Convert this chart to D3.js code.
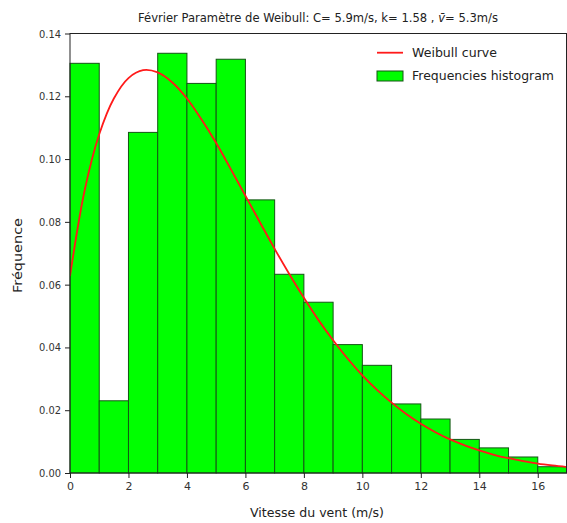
<!DOCTYPE html>
<html>
<head>
<meta charset="utf-8">
<script src="https://cdn.jsdelivr.net/npm/d3@7"></script>
<style>
  html, body { margin: 0; padding: 0; background: #fff; }
  svg { display: block; }
  text { font-family: "DejaVu Sans", sans-serif; fill: #222; }
</style>
</head>
<body>
<svg id="chart" width="567" height="523"></svg>
<script>
// Histogram bins (1 m/s wide, starting at 0) and their frequencies
const binStarts = [0, 1, 2, 3, 4, 5, 6, 7, 8, 9, 10, 11, 12, 13, 14, 15, 16];
const binFreqs = [0.1305, 0.0230, 0.1085, 0.1337, 0.1241, 0.1318, 0.0870, 0.0633, 0.0544,
                  0.0409, 0.0343, 0.0220, 0.0172, 0.0107, 0.0080, 0.0051, 0.0020];

// Weibull curve samples
const curveX = [0, 0.5, 1, 1.5, 2, 2.5, 3, 3.5, 4, 4.5, 5, 5.5, 6, 6.5, 7, 7.5, 8, 8.5,
                9, 9.5, 10, 10.5, 11, 11.5, 12, 12.5, 13, 13.5, 14, 14.5, 15, 15.5, 16, 16.5, 17];
const curveY = [0.0627, 0.0900, 0.1079, 0.1193, 0.1258, 0.1283, 0.1276, 0.1244, 0.1193,
                0.1126, 0.1051, 0.0968, 0.0883, 0.0798, 0.0714, 0.0634, 0.0558, 0.0487,
                0.0423, 0.0364, 0.0311, 0.0265, 0.0224, 0.0188, 0.0157, 0.0130, 0.0107,
                0.0088, 0.0072, 0.0058, 0.0047, 0.0038, 0.0030, 0.0024, 0.0019];

const xTicks = [0, 2, 4, 6, 8, 10, 12, 14, 16];
const yTicks = [0.00, 0.02, 0.04, 0.06, 0.08, 0.10, 0.12, 0.14];

const titleText = "Février Paramètre de Weibull: C= 5.9m/s, k= 1.58 , ";
const xLabel = "Vitesse du vent (m/s)";
const yLabel = "Fréquence";
const legendItems = ["Weibull curve", "Frequencies histogram"];

const svg = d3.select("#chart");
const m = { left: 70, right: 567, top: 33.5, bottom: 473 };

const x = d3.scaleLinear().domain([0, 17]).range([m.left, m.right]);
const y = d3.scaleLinear().domain([0, 0.14]).range([m.bottom, m.top]);

svg.append("defs").append("clipPath").attr("id", "plot-clip")
  .append("rect").attr("x", m.left).attr("y", m.top)
  .attr("width", m.right - m.left).attr("height", m.bottom - m.top);

// Bars
svg.append("g").selectAll("rect").data(binStarts).join("rect")
  .attr("x", d => x(d))
  .attr("y", (d, i) => y(binFreqs[i]))
  .attr("width", d => x(d + 1) - x(d))
  .attr("height", (d, i) => y(0) - y(binFreqs[i]))
  .attr("fill", "#00ff00")
  .attr("stroke", "#155515")
  .attr("stroke-width", 1);

// Curve
const line = d3.line().x(d => x(d[0])).y(d => y(d[1])).curve(d3.curveCatmullRom);
svg.append("path")
  .datum(curveX.map((v, i) => [v, curveY[i]]))
  .attr("clip-path", "url(#plot-clip)")
  .attr("d", line)
  .attr("fill", "none")
  .attr("stroke", "#ff1a1a")
  .attr("stroke-width", 1.8);

// Axes
const xAxis = d3.axisBottom(x).tickValues(xTicks).tickSize(5).tickPadding(4)
  .tickFormat(d3.format("d"));
const yAxis = d3.axisLeft(y).tickValues(yTicks).tickSize(5).tickPadding(4)
  .tickFormat(d3.format(".2f"));

const gx = svg.append("g").attr("transform", `translate(0,${m.bottom})`).call(xAxis);
const gy = svg.append("g").attr("transform", `translate(${m.left},0)`).call(yAxis);
[gx, gy].forEach(g => {
  g.select(".domain").remove();
  g.selectAll(".tick line").attr("stroke", "#222");
  g.selectAll(".tick text").attr("font-size", 11).style("fill", "#333")
    .attr("font-family", "DejaVu Sans, sans-serif");
});
gy.selectAll(".tick text").attr("textLength", 22).attr("lengthAdjust", "spacingAndGlyphs");

// Frame
svg.append("rect")
  .attr("x", m.left).attr("y", m.top)
  .attr("width", m.right - m.left - 0.5).attr("height", m.bottom - m.top)
  .attr("fill", "none").attr("stroke", "#222").attr("stroke-width", 1);

// Title
const title = svg.append("text")
  .attr("x", 318).attr("y", 22)
  .attr("text-anchor", "middle")
  .attr("font-size", 11.5)
  .attr("textLength", 360).attr("lengthAdjust", "spacingAndGlyphs");
title.append("tspan").text(titleText);
title.append("tspan").attr("font-style", "italic").text("v\u0304");
title.append("tspan").text("= 5.3m/s");

// Axis labels
svg.append("text")
  .attr("x", 317).attr("y", 517)
  .attr("text-anchor", "middle").attr("font-size", 11.5)
  .attr("textLength", 134).attr("lengthAdjust", "spacingAndGlyphs")
  .text(xLabel);

svg.append("text")
  .attr("transform", "translate(22,255.5) rotate(-90)")
  .attr("text-anchor", "middle").attr("font-size", 11.5)
  .attr("textLength", 75).attr("lengthAdjust", "spacingAndGlyphs")
  .text(yLabel);

// Legend
const lg = svg.append("g");
lg.append("line")
  .attr("x1", 377).attr("x2", 403).attr("y1", 52.7).attr("y2", 52.7)
  .attr("stroke", "#ff1a1a").attr("stroke-width", 1.8);
lg.append("rect")
  .attr("x", 377).attr("y", 71).attr("width", 26).attr("height", 10)
  .attr("fill", "#00ff00").attr("stroke", "#155515").attr("stroke-width", 1);
lg.append("text").attr("x", 412).attr("y", 56.5).attr("font-size", 11.5)
  .attr("textLength", 85).attr("lengthAdjust", "spacingAndGlyphs")
  .text(legendItems[0]);
lg.append("text").attr("x", 412).attr("y", 80).attr("font-size", 11.5)
  .attr("textLength", 142).attr("lengthAdjust", "spacingAndGlyphs")
  .text(legendItems[1]);
</script>
</body>
</html>
